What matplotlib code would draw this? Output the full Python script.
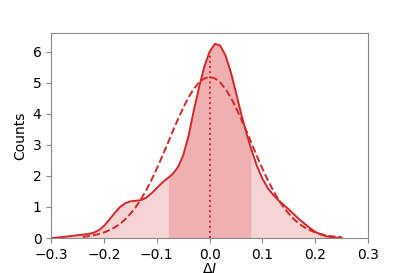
import numpy as np
import matplotlib
matplotlib.use("Agg")
import matplotlib.pyplot as plt

# KDE of delta I
kde_x = np.round(np.arange(-0.30, 0.2501, 0.01), 2)
kde_y = [0.0, 0.015, 0.03, 0.05, 0.07, 0.09, 0.11, 0.13, 0.17, 0.25,
         0.39, 0.59, 0.80, 0.99, 1.12, 1.18, 1.20, 1.22, 1.30, 1.44,
         1.61, 1.78, 1.92, 2.06, 2.28, 2.66, 3.28, 4.10, 4.85, 5.52,
         6.00, 6.25, 6.20, 5.88, 5.35, 4.68, 3.98, 3.36, 2.80, 2.30,
         1.91, 1.61, 1.40, 1.22, 1.07, 0.92, 0.76, 0.60, 0.46, 0.32,
         0.20, 0.12, 0.06, 0.025, 0.01, 0.0]

# fitted normal curve (dashed)
fit_x = np.round(np.arange(-0.24, 0.2501, 0.01), 2)
fit_half = [5.18, 5.14, 5.01, 4.80, 4.53, 4.19, 3.82, 3.43, 3.02, 2.62,
            2.23, 1.87, 1.54, 1.25, 0.99, 0.78, 0.60, 0.45, 0.34, 0.25,
            0.18, 0.13, 0.09, 0.06, 0.04, 0.03]
fit_y = fit_half[24:0:-1] + fit_half

mean = 0.0
sigma = 0.078

red = "#d62728"

fig = plt.figure(figsize=(4.09, 2.73), dpi=100)
ax = fig.add_axes([0.125, 0.128, 0.775, 0.751])

kde_x = np.asarray(kde_x)
kde_y = np.asarray(kde_y)
ax.fill_between(kde_x, kde_y, color=red, alpha=0.2, lw=0)
inside = (kde_x >= mean - sigma - 1e-9) & (kde_x <= mean + sigma + 1e-9)
xs = np.concatenate([[mean - sigma], kde_x[inside], [mean + sigma]])
ys = np.interp(xs, kde_x, kde_y)
ax.fill_between(xs, ys, color=red, alpha=0.2, lw=0)

ax.plot(kde_x, kde_y, color=red, lw=1.4)
ax.plot(fit_x, fit_y, color=red, lw=1.4, ls="--")
ax.vlines(mean, 0, np.interp(mean, kde_x, kde_y), color=red, lw=1.4, ls=":")

ax.set_xlim(-0.3, 0.3)
ax.set_ylim(0, 6.6)
ax.set_xticks(np.round(np.arange(-0.3, 0.31, 0.1), 1))
ax.set_yticks(range(7))
ax.set_xlabel(r"$\Delta I$", labelpad=0)
ax.set_ylabel("Counts")
for s in ax.spines.values():
    s.set_color("#888888")
ax.tick_params(color="#888888")

fig.savefig("out.png", dpi=100)
